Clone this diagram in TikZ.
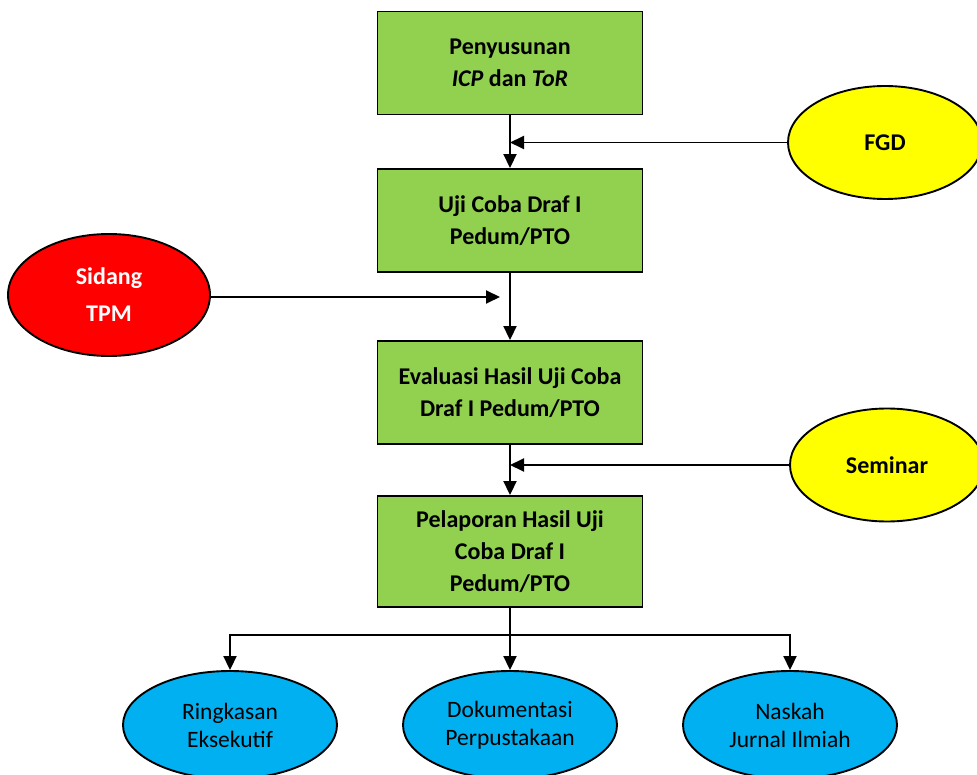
\documentclass[tikz,border=0pt]{standalone}
\usepackage{fontspec}
\setmainfont{Carlito}
\usetikzlibrary{shapes.geometric,arrows.meta}
\definecolor{boxgreen}{HTML}{92D050}
\definecolor{ovyellow}{HTML}{FFFF00}
\definecolor{ovred}{HTML}{FF0000}
\definecolor{ovblue}{HTML}{00B0F0}
\begin{document}
\begin{tikzpicture}[x=1pt,y=1pt,
  stepbox/.style={draw=black, line width=1.9pt, fill=boxgreen, rectangle,
    minimum width=265pt, inner sep=0pt, align=center,
    font=\fontsize{24}{32}\selectfont\bfseries},
  oval/.style={draw=black, line width=1.9pt, ellipse, inner sep=0pt, align=center},
  inputoval/.style={oval, fill=ovyellow, minimum width=194pt, minimum height=113pt,
    font=\fontsize{24}{32}\selectfont\bfseries},
  outputoval/.style={oval, fill=ovblue, minimum width=214pt, minimum height=108pt,
    font=\fontsize{23.5}{28}\selectfont},
  flow/.style={line width=1.9pt, -{Triangle[length=14pt,width=13pt]}},
  plain/.style={line width=1.9pt}
]
\useasboundingbox (0,0) rectangle (977,-775);

% main column of process steps
\node[stepbox, minimum height=103pt] (b1) at (510,-63)
  {Penyusunan\\\textit{ICP} dan \textit{ToR}};
\node[stepbox, minimum height=103pt] (b2) at (510,-220.5)
  {Uji Coba Draf I\\Pedum/PTO};
\node[stepbox, minimum height=103pt] (b3) at (510,-392.5)
  {Evaluasi Hasil Uji Coba\\Draf I Pedum/PTO};
\node[stepbox, minimum height=111pt] (b4) at (510,-551.5)
  {Pelaporan Hasil Uji\\Coba Draf I\\Pedum/PTO};

% side inputs
\node[inputoval] (fgd) at (885,-142.5) {FGD};
\node[inputoval] (sem) at (887,-465) {Seminar};
\node[oval, fill=ovred, minimum width=202pt, minimum height=122pt,
  text=white, font=\fontsize{24}{37}\selectfont\bfseries] (tpm) at (109,-295)
  {Sidang\\TPM};

% outputs
\node[outputoval] (o1) at (230,-725) {Ringkasan\\Eksekutif};
\node[outputoval] (o2) at (510,-725) {Dokumentasi\\Perpustakaan};
\node[outputoval] (o3) at (790,-725) {Naskah\\Jurnal Ilmiah};

% flow between steps
\draw[flow] (b1) -- (b2);
\draw[flow] (b2) -- (b3);
\draw[flow] (b3) -- (b4);

% inputs joining the flow
\coordinate (jfgd) at (b1.south |- fgd.west);
\draw[flow] (fgd.west) -- (jfgd);
\coordinate (jtpm) at (500,-297);
\draw[flow] (tpm.east |- jtpm) -- (jtpm);
\coordinate (jsem) at (b3.south |- sem.west);
\draw[flow] (sem.west) -- (jsem);

% distribution to outputs
\coordinate (fork) at (510,-635);
\draw[plain] (b4.south) -- (fork);
\draw[flow] (fork) -- (o2.north);
\draw[flow] (fork) -| (o1.north);
\draw[flow] (fork) -| (o3.north);
\end{tikzpicture}
\end{document}
